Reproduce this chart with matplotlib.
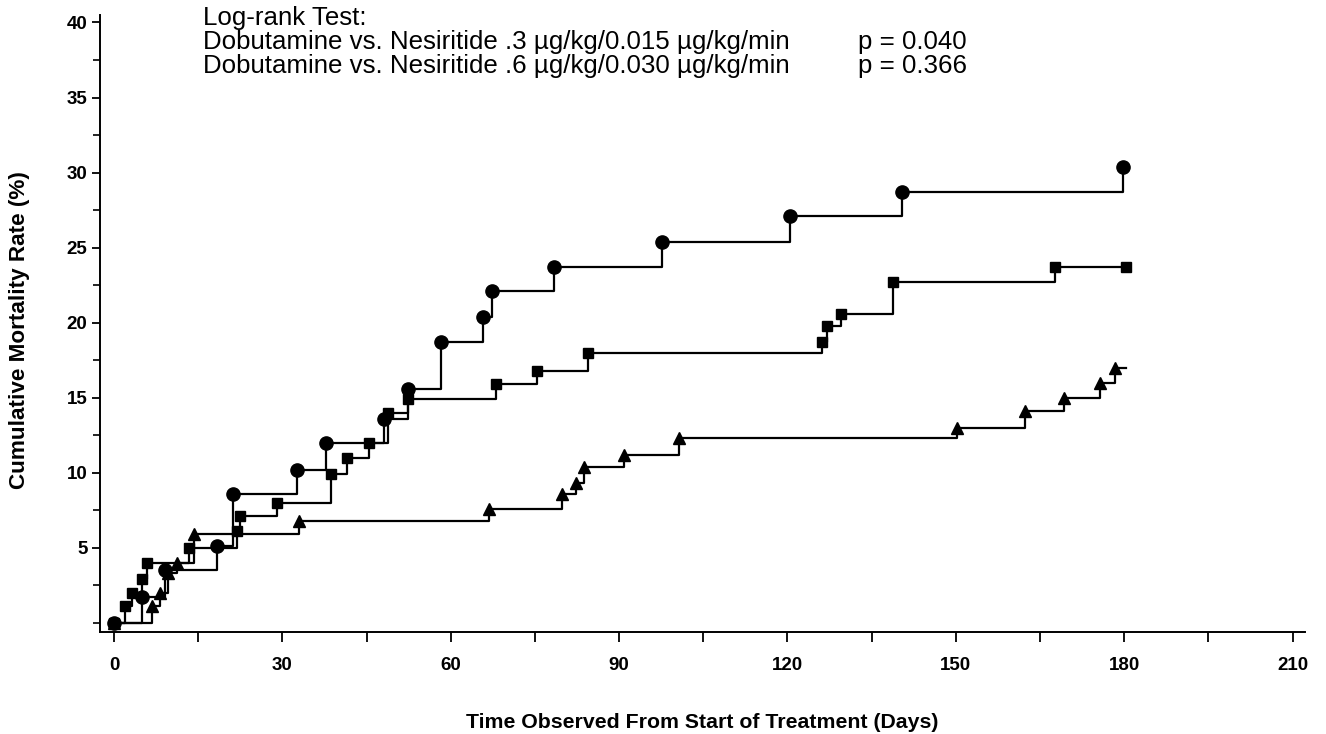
"""Kaplan-Meier style cumulative mortality: dobutamine vs nesiritide."""

import numpy as np
import matplotlib
matplotlib.use("Agg")
import matplotlib.pyplot as plt
from matplotlib.ticker import MultipleLocator

plt.rcParams.update({
    "font.family": ["Liberation Sans", "DejaVu Sans"],
    "font.size": 14,
    "axes.linewidth": 1.4,
})

# event times (days) and cumulative mortality (%)
circle_days = [0, 5.0, 9.1, 18.3, 21.2, 32.6, 37.7, 48.1, 52.3, 58.3, 65.8,
               67.3, 78.4, 97.7, 120.4, 140.4, 179.8]
circle_rate = [0, 1.7, 3.5, 5.1, 8.6, 10.2, 12.0, 13.6, 15.6, 18.7, 20.4,
               22.1, 23.7, 25.4, 27.1, 28.7, 30.4]

square_days = [0, 1.9, 3.2, 5.0, 5.9, 13.3, 21.9, 22.4, 29.0, 38.6, 41.5,
               45.5, 48.8, 52.4, 68.1, 75.3, 84.4, 126.2, 127.0, 129.5,
               138.8, 167.6, 180.3]
square_rate = [0, 1.1, 2.0, 2.9, 4.0, 5.0, 6.1, 7.1, 8.0, 9.9, 11.0,
               12.0, 14.0, 14.9, 15.9, 16.8, 18.0, 18.7, 19.8, 20.6,
               22.7, 23.7, 23.7]

triangle_days = [0, 6.7, 8.2, 9.7, 11.2, 14.2, 32.9, 66.9, 79.8, 82.4, 83.8,
                 90.9, 100.7, 150.2, 162.4, 169.3, 175.6, 178.4]
triangle_rate = [0, 1.1, 2.0, 3.3, 4.0, 5.9, 6.8, 7.6, 8.6, 9.3, 10.4,
                 11.2, 12.3, 13.0, 14.1, 15.0, 16.0, 17.0]

end_of_followup = 180.3

x_ticks = [0, 30, 60, 90, 120, 150, 180, 210]
y_ticks = [5, 10, 15, 20, 25, 30, 35, 40]

header_lines = [
    "Log-rank Test:",
    "Dobutamine vs. Nesiritide .3 \u00b5g/kg/0.015 \u00b5g/kg/min",
    "Dobutamine vs. Nesiritide .6 \u00b5g/kg/0.030 \u00b5g/kg/min",
]
p_values = ["p = 0.040", "p = 0.366"]


def km_line(ax, days, rate, marker, ms):
    days = np.asarray(days, dtype=float)
    rate = np.asarray(rate, dtype=float)
    xs = np.append(days, max(days[-1], end_of_followup))
    ys = np.append(rate, rate[-1])
    ax.step(xs, ys, where="post", color="black", lw=1.6, zorder=2)
    ax.plot(days, rate, linestyle="none", marker=marker, ms=ms,
            color="black", zorder=3)


fig = plt.figure(figsize=(13.26, 7.34), dpi=100)
ax = fig.add_axes([0.0754, 0.139, 0.9087, 0.8406])

km_line(ax, circle_days, circle_rate, "o", 9.5)
km_line(ax, square_days, square_rate, "s", 7.5)
km_line(ax, triangle_days, triangle_rate, "^", 8.5)

ax.set_xlim(-2.5, 212.2)
ax.set_ylim(-0.6, 40.5)

ax.set_xticks(x_ticks)
ax.xaxis.set_minor_locator(MultipleLocator(15))
ax.set_yticks(y_ticks)
ax.yaxis.set_minor_locator(MultipleLocator(2.5))

for side in ("top", "right"):
    ax.spines[side].set_visible(False)

ax.tick_params(axis="x", which="major", direction="out", length=7,
               width=1.3, pad=11, labelsize=13.5)
ax.tick_params(axis="x", which="minor", direction="out", length=7, width=1.3)
ax.tick_params(axis="y", which="major", direction="out", length=6,
               width=1.3, pad=3, labelsize=13.5)
ax.tick_params(axis="y", which="minor", direction="out", length=5, width=1.2)
for lab in ax.get_xticklabels() + ax.get_yticklabels():
    lab.set_fontweight("bold")

ax.set_xlabel("Time Observed From Start of Treatment (Days)",
              fontsize=15.3, fontweight="bold", labelpad=28)
ax.set_ylabel("Cumulative Mortality Rate (%)",
              fontsize=16.2, fontweight="bold", labelpad=21)
ax.yaxis.set_label_coords(-0.058, 0.49)

for i, line in enumerate(header_lines):
    fig.text(203 / 1326, 1 - (18 + 24 * i) / 734, line,
             fontsize=18.6, va="center", ha="left")
for i, p in enumerate(p_values):
    fig.text(858 / 1326, 1 - (42 + 24 * i) / 734, p,
             fontsize=18.6, va="center", ha="left")

fig.savefig("out.png", dpi=100)
